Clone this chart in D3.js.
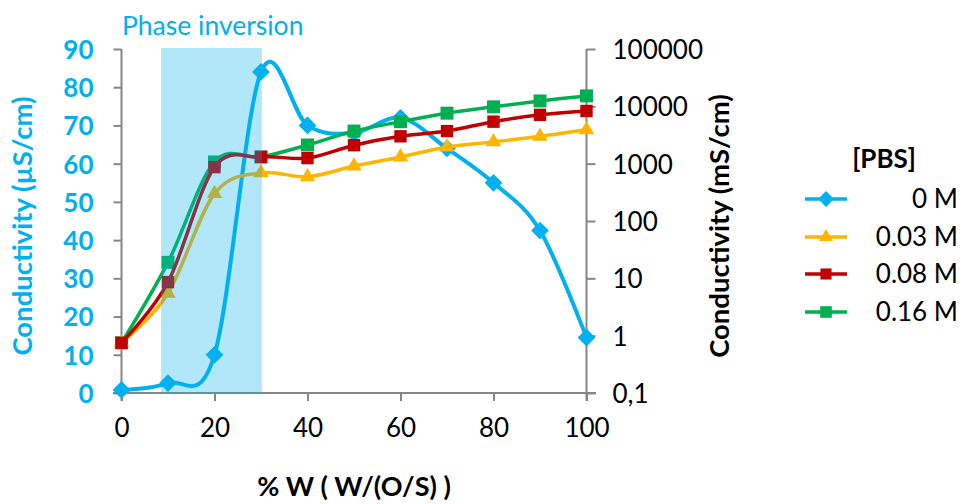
<!DOCTYPE html>
<html>
<head>
<meta charset="utf-8">
<script src="https://cdn.jsdelivr.net/npm/d3@7"></script>
<style>
  body { margin: 0; background: #fff; }
  svg text { font-family: Lato, "Open Sans", sans-serif; }
</style>
</head>
<body>
<svg id="chart" width="963" height="504"></svg>
<script>
// data
const waterPct = [0, 10, 20, 30, 40, 50, 60, 70, 80, 90, 100];
const pbs0 = [0.8, 2.6, 10, 84, 70, 68, 72, 64, 55, 42.5, 14.5];          // µS/cm, left axis
const pbs003 = [0.75, 5.5, 300, 690, 590, 910, 1310, 1950, 2400, 3000, 3900];   // mS/cm, right axis
const pbs008 = [0.75, 8.6, 870, 1310, 1250, 2100, 3000, 3700, 5400, 7100, 8300];
const pbs016 = [0.75, 19, 1070, 1310, 2120, 3700, 5400, 7600, 9800, 12400, 15200];
const leftTicks = [0, 10, 20, 30, 40, 50, 60, 70, 80, 90];
const rightTicks = [0.1, 1, 10, 100, 1000, 10000, 100000];
const xTicks = [0, 20, 40, 60, 80, 100];
const phaseBand = [8.5, 30.2];

const blue = '#00b0f0', axisCol = '#868686';

const svg = d3.select('#chart');
const x = d3.scaleLinear().domain([0, 100]).range([121.5, 586.5]);
const yL = d3.scaleLinear().domain([0, 90]).range([393, 49]);
const yR = d3.scaleLog().domain([0.1, 100000]).range([393, 49]);

// axes
const gx = svg.append('g').attr('transform', 'translate(0,393)')
  .call(d3.axisBottom(x).tickValues(xTicks).tickSize(8).tickPadding(16));
const gl = svg.append('g').attr('transform', 'translate(121.5,0)')
  .call(d3.axisLeft(yL).tickValues(leftTicks).tickSize(8).tickPadding(20));
const gr = svg.append('g').attr('transform', 'translate(586.5,0)')
  .call(d3.axisRight(yR).tickValues(rightTicks).tickSize(9).tickPadding(17)
    .tickFormat(d => d < 1 ? '0,1' : d3.format('d')(d)));

[gx, gl, gr].forEach(g => {
  g.select('.domain').remove();
  g.selectAll('.tick line').attr('stroke', axisCol).attr('stroke-width', 2);
  g.selectAll('.tick text').style('font-size', '26px').attr('fill', '#000');
});
gl.selectAll('.tick text').attr('fill', blue).style('font-weight', 'bold').attr('dy', '0.36em');
gr.selectAll('.tick text').attr('dy', '0.36em');
gx.selectAll('.tick text').attr('dy', '0.75em');

svg.append('line').attr('x1', 121.5).attr('x2', 121.5).attr('y1', 49).attr('y2', 401)
  .attr('stroke', axisCol).attr('stroke-width', 2);
svg.append('line').attr('x1', 586.5).attr('x2', 586.5).attr('y1', 49).attr('y2', 401)
  .attr('stroke', axisCol).attr('stroke-width', 2);
svg.append('line').attr('x1', 113).attr('x2', 596).attr('y1', 393).attr('y2', 393)
  .attr('stroke', axisCol).attr('stroke-width', 2);

// series
const line = d3.line().curve(d3.curveCatmullRom.alpha(0));
const series = [
  { name: '0 M', vals: pbs0, y: yL, color: blue, shape: d3.symbolDiamond2, size: 200, lw: 4 },
  { name: '0.16 M', vals: pbs016, y: yR, color: '#00b050', shape: d3.symbolSquare2, size: 215, lw: 3.5 },
  { name: '0.03 M', vals: pbs003, y: yR, color: '#ffb400', shape: d3.symbolTriangle2, size: 170, lw: 3.5 },
  { name: '0.08 M', vals: pbs008, y: yR, color: '#c00000', shape: d3.symbolSquare2, size: 195, lw: 3.5 }
];

series.forEach(s => {
  const pts = waterPct.map((w, i) => [x(w), s.y(s.vals[i])]);
  svg.append('path').attr('d', line(pts)).attr('fill', 'none')
    .attr('stroke', s.color).attr('stroke-width', s.lw);
  svg.append('g').selectAll('path').data(pts).enter().append('path')
    .attr('transform', d => `translate(${d[0]},${d[1]})`)
    .attr('d', d3.symbol().type(s.shape).size(s.size))
    .attr('fill', s.color);
});

// phase inversion band, drawn over the lines
svg.append('rect')
  .attr('x', x(phaseBand[0])).attr('width', x(phaseBand[1]) - x(phaseBand[0]))
  .attr('y', 48).attr('height', 393 - 48)
  .attr('fill', blue).attr('opacity', 0.3);
svg.append('text').attr('x', 122).attr('y', 35).text('Phase inversion')
  .attr('fill', blue).style('font-size', '26.5px');

// axis titles
svg.append('text').attr('transform', 'translate(32,226) rotate(-90)')
  .attr('text-anchor', 'middle').attr('fill', blue)
  .style('font-size', '27.5px').style('font-weight', 'bold').text('Conductivity (µS/cm)');
svg.append('text').attr('transform', 'translate(729,226) rotate(-90)')
  .attr('text-anchor', 'middle').attr('fill', '#000')
  .style('font-size', '27.5px').style('font-weight', 'bold').text('Conductivity (mS/cm)');
svg.append('text').attr('x', 354).attr('y', 496).attr('text-anchor', 'middle')
  .style('font-size', '27px').style('font-weight', 'bold').text('% W ( W/(O/S) )');

// legend
svg.append('text').attr('x', 884).attr('y', 168).attr('text-anchor', 'middle')
  .style('font-size', '26px').style('font-weight', 'bold').text('[PBS]');
const legendOrder = ['0 M', '0.03 M', '0.08 M', '0.16 M'];
const rowY = [199, 237, 274, 312];
legendOrder.forEach((name, i) => {
  const s = series.find(d => d.name === name);
  const g = svg.append('g').attr('transform', `translate(0,${rowY[i]})`);
  g.append('line').attr('x1', 805).attr('x2', 847).attr('stroke', s.color).attr('stroke-width', 3.5);
  g.append('path').attr('transform', 'translate(826,0)')
    .attr('d', d3.symbol().type(s.shape).size(s.size * 0.8)).attr('fill', s.color);
  g.append('text').attr('x', 958).attr('dy', '0.36em').attr('text-anchor', 'end')
    .style('font-size', '26px').text(name);
});
</script>
</body>
</html>
